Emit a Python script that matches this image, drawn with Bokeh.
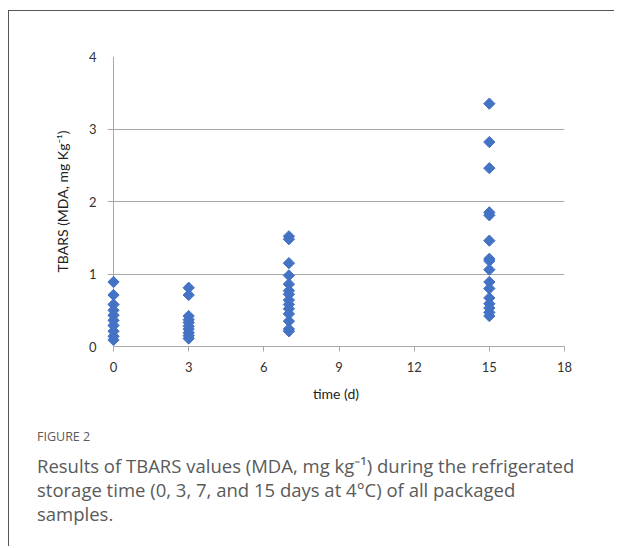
import math
from bokeh.plotting import figure
from bokeh.models import ColumnDataSource, FixedTicker, Range1d, Label, Span, Plot
from bokeh.embed import file_html
from bokeh.resources import INLINE

# ---- data ----
x_ticks = [0, 3, 6, 9, 12, 15, 18]
y_ticks = [0, 1, 2, 3, 4]
day0 = [0.89, 0.71, 0.58, 0.50, 0.43, 0.36, 0.29, 0.21, 0.14, 0.09]
day3 = [0.81, 0.71, 0.42, 0.37, 0.33, 0.28, 0.24, 0.19, 0.15, 0.11]
day7 = [1.52, 1.48, 1.15, 0.98, 0.86, 0.77, 0.72, 0.64, 0.58, 0.52, 0.45, 0.35, 0.24, 0.21]
day15 = [3.35, 2.82, 2.46, 1.85, 1.81, 1.46, 1.21, 1.18, 1.06, 0.89, 0.80, 0.67, 0.59, 0.53, 0.47, 0.42]
days = [0, 3, 7, 15]
series = [day0, day3, day7, day15]

caption_head = "FIGURE 2"
caption_lines = ["Results of TBARS values (MDA, mg kg\u207b\u00b9) during the refrigerated",
                 "storage time (0, 3, 7, and 15 days at 4\u00b0C) of all packaged",
                 "samples."]

xs, ys = [], []
for d, vals in zip(days, series):
    xs += [d] * len(vals)
    ys += vals
src = ColumnDataSource(dict(x=xs, y=ys))

W = 606
p = figure(width=W, height=400, output_backend="svg", toolbar_location=None,
           x_range=Range1d(-0.24, 18), y_range=Range1d(0, 4),
           min_border_left=98, min_border_right=51,
           min_border_top=45, min_border_bottom=65)
p.outline_line_color = None
p.background_fill_color = "white"
p.border_fill_color = "white"

grid_col = "#a8a8a8"
tick_font = "Lato"
for ax in (p.xaxis[0], p.yaxis[0]):
    ax.axis_line_color = grid_col
    ax.major_tick_line_color = grid_col
    ax.major_tick_in = 0
    ax.major_tick_out = 5
    ax.minor_tick_line_color = None
    ax.major_label_text_font = tick_font
    ax.major_label_text_font_size = "13px"
    ax.major_label_text_color = "#333333"
    ax.axis_label_text_font = tick_font
    ax.axis_label_text_font_size = "14px"
    ax.axis_label_text_font_style = "normal"
    ax.axis_label_text_color = "#222222"

p.xaxis.ticker = FixedTicker(ticks=x_ticks)
p.yaxis.ticker = FixedTicker(ticks=y_ticks)
p.xaxis.bounds = (0, 18)
p.yaxis.axis_line_color = None
p.yaxis.major_tick_out = 0
p.xaxis.major_label_standoff = 10
p.yaxis.major_label_standoff = 11
p.xaxis.axis_label = "time (d)"
p.xaxis.axis_label_standoff = 10
p.yaxis.axis_label = "TBARS (MDA, mg Kg\u207b\u00b9)"
p.yaxis.axis_label_standoff = 15

p.xgrid.grid_line_color = None
p.ygrid.grid_line_color = grid_col
p.ygrid.grid_line_width = 1
p.add_layout(Span(location=0, dimension="height", line_color=grid_col,
                  line_width=1, level="underlay"))

p.scatter("x", "y", source=src, marker="square", size=8, angle=math.pi / 4,
          fill_color="#4472C4", line_color="#4472C4")

p.styles = {"border-top": "1.5px solid #555555", "border-left": "1.5px solid #555555",
            "margin-top": "10px", "margin-left": "8px"}

# ---- caption panel ----
CH = 136
c = Plot(width=W, height=CH, output_backend="svg", toolbar_location=None,
         x_range=Range1d(0, W), y_range=Range1d(0, CH),
         min_border=0, outline_line_color=None)
cap_font = "Open Sans"
cap_col = "#5a5a5a"
c.add_layout(Label(x=27.5, y=CH - 25.5, x_units="screen", y_units="screen",
                   text=caption_head, text_font=cap_font, text_font_size="12.5px",
                   text_color=cap_col, text_baseline="middle"))
for i, t in enumerate(caption_lines):
    c.add_layout(Label(x=27.5, y=CH - 54.5 - 24 * i, x_units="screen", y_units="screen",
                       text=t, text_font=cap_font, text_font_size="18.5px",
                       text_color=cap_col, text_baseline="middle"))
c.styles = {"border-left": "1.5px solid #555555", "margin-left": "8px"}

open("out.html", "w").write(file_html([p, c], INLINE))
